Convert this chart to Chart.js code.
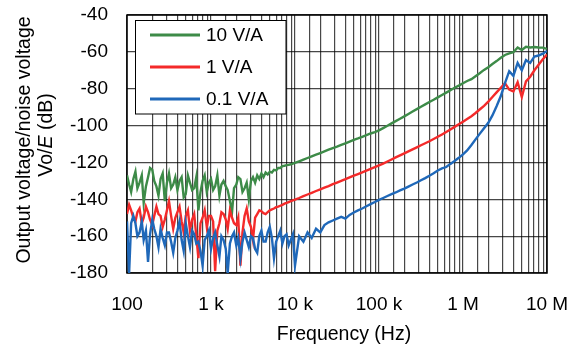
<!DOCTYPE html>
<html>
<head>
<meta charset="utf-8">
<script src="https://cdn.jsdelivr.net/npm/chart.js@4/dist/chart.umd.min.js"></script>
<style>
  html, body { margin: 0; padding: 0; background: #fff; }
  canvas { display: block; }
</style>
</head>
<body>
<canvas id="noise" width="576" height="349"></canvas>
<script>
// frequency grid: 40 points/decade below 10 kHz (noisy floor), 20 points/decade above
const fineSteps = [1, 1.06, 1.12, 1.19, 1.26, 1.33, 1.41, 1.5, 1.58, 1.68, 1.78, 1.88, 2, 2.11, 2.24, 2.37, 2.51, 2.66, 2.82, 2.99,
  3.16, 3.35, 3.55, 3.76, 3.98, 4.22, 4.47, 4.73, 5.01, 5.31, 5.62, 5.96, 6.31, 6.68, 7.08, 7.5, 7.94, 8.41, 8.91, 9.44];
const coarseSteps = [1, 1.12, 1.26, 1.41, 1.58, 1.78, 2, 2.24, 2.51, 2.82, 3.16, 3.55, 3.98, 4.47, 5.01, 5.62, 6.31, 7.08, 7.94, 8.91];
const freq = [1e2, 1e3].flatMap(d => fineSteps.map(s => s * d))
  .concat([1e4, 1e5, 1e6].flatMap(d => coarseSteps.map(s => s * d)), [1e7]);

const seriesNames = ['10 V/A', '1 V/A', '0.1 V/A'];
const seriesColors = ['#3d8b48', '#f42a2a', '#1f68b9'];

const gain10 = [
  // 100 Hz .. 9.4 kHz
  -127, -132, -136, -129, -125, -134, -131, -127, -142, -133,
  -128, -123, -124, -130, -133, -138, -129, -126, -141, -131,
  -126, -134, -132, -128, -135, -130, -128, -139, -137, -127,
  -131, -135, -134, -128, -146, -136, -130, -127, -136, -131,
  -129, -135, -133, -127, -138, -132, -130, -133, -135, -141,
  -147, -134, -132, -128, -129, -136, -134, -131, -140, -130,
  -128, -131, -127, -129, -126, -128, -125.5, -126.5, -125, -125.5,
  -124, -124.3, -123, -123, -122, -121.8, -121.5, -121.3, -121, -120.6,
  // 10 kHz .. 10 MHz
  -120.3, -119.4, -118.5, -117.6, -116.7, -115.8, -114.9, -114.0, -113.1, -112.2,
  -111.4, -110.5, -109.6, -108.7, -107.8, -107.0, -106.1, -105.2, -104.3, -103.5,
  -102.6, -101.4, -100.1, -98.8, -97.6, -96.3, -95.0, -93.7, -92.4, -91.1,
  -89.8, -88.5, -87.2, -86.0, -84.7, -83.4, -82.1, -80.8, -79.5, -78.3,
  -77.0, -75.8, -74.8, -73.2, -71.6, -69.8, -68.3, -66.6, -65.0, -63.2,
  -61.7, -60.8, -60.2, -57.6, -59.0, -57.2, -57.6, -57.4, -57.6, -57.7,
  -58.4
];

const gain1 = [
  -148, -143, -146, -150, -152, -147, -145, -153, -150, -144,
  -147, -151, -154, -149, -144, -148, -149, -155, -151, -146,
  -141, -149, -156, -150, -147, -144, -152, -158, -149, -146,
  -157, -151, -148, -160, -172, -153, -150, -146, -155, -149,
  -149, -152, -179, -157, -153, -147, -148, -151, -156, -146,
  -150, -153, -154, -150, -176, -158, -149, -145, -152, -155,
  -162, -150, -148, -146, -146.5, -147.5, -148, -147, -146, -145.5,
  -145, -144.3, -144, -143.5, -143, -142.4, -142, -141.5, -141, -140.6,
  -140.2, -139.3, -138.3, -137.4, -136.5, -135.5, -134.6, -133.7, -132.8, -131.8,
  -130.9, -130.0, -129.1, -128.1, -127.2, -126.3, -125.4, -124.4, -123.5, -122.6,
  -121.6, -120.6, -119.5, -118.4, -117.3, -116.2, -115.1, -114.0, -112.9, -111.8,
  -110.7, -109.6, -108.5, -107.3, -106.1, -104.8, -103.5, -102.1, -100.7, -99.3,
  -97.9, -96.4, -94.9, -93.2, -91.3, -89.3, -87.0, -84.5, -82.0, -79.5,
  -77.0, -80.5, -81.5, -76.5, -84.5, -76.0, -73.5, -70.0, -67.0, -64.0,
  -61.5
];

const gain01 = [
  -152, -180, -153, -149, -153, -160, -158, -152, -162, -157,
  -174, -159, -151, -156, -160, -166, -156, -161, -165, -158,
  -158, -163, -169, -161, -157, -152, -162, -168, -153, -160,
  -166, -157, -159, -164, -163, -168, -176, -162, -160, -157,
  -167, -161, -158, -165, -171, -160, -162, -167, -180, -164,
  -160, -158, -165, -161, -172, -163, -158, -162, -166, -160,
  -161, -167, -169, -160, -157, -163, -163, -158, -155, -161,
  -172, -163, -160, -157, -164, -160, -159, -165, -162, -159,
  -176, -160, -163, -158, -161, -156, -158, -154, -152.5, -151.5,
  -150.5, -149.5, -150.5, -148.5, -147.2, -146.0, -145.0, -143.8, -142.6, -141.5,
  -140.3, -139.3, -138.2, -137.2, -136.3, -135.2, -134.2, -133.1, -132.0, -130.9,
  -129.7, -128.5, -127.2, -125.9, -124.4, -123.2, -122.5, -120.8, -119.2, -117.5,
  -115.6, -113.5, -110.5, -107.5, -104.5, -101.5, -98.5, -94.5, -89.5, -84.0,
  -77.0, -70.5, -73.0, -66.0, -70.0, -64.5, -66.0, -62.5, -62.0, -61.0,
  -59.5
];

const decadeLabels = { 100: '100', 1000: '1 k', 10000: '10 k', 100000: '100 k', 1000000: '1 M', 10000000: '10 M' };

const FONT = "'Liberation Sans', Arial, sans-serif";

function toPoints(values) {
  return values.map((v, i) => ({ x: freq[i], y: v }));
}

// plot frame, legend box and axis titles
const decorations = {
  id: 'decorations',
  beforeDatasetsDraw(chart) {
    const { ctx, chartArea: a } = chart;
    ctx.save();
    ctx.strokeStyle = '#000';
    ctx.lineWidth = 1.5;
    ctx.strokeRect(a.left, a.top, a.right - a.left, a.bottom - a.top);
    ctx.restore();
  },
  afterDatasetsDraw(chart) {
    const ctx = chart.ctx;
    ctx.save();
    // legend
    ctx.fillStyle = '#fff';
    ctx.fillRect(135, 20, 151, 94);
    ctx.strokeStyle = '#000';
    ctx.lineWidth = 1;
    ctx.strokeRect(135.5, 20.5, 150.5, 93.5);
    ctx.font = '19px ' + FONT;
    ctx.textBaseline = 'middle';
    ctx.textAlign = 'left';
    chart.data.datasets.forEach((ds, i) => {
      const y = 35 + i * 32;
      ctx.strokeStyle = ds.borderColor;
      ctx.lineWidth = 3;
      ctx.beginPath();
      ctx.moveTo(150, y);
      ctx.lineTo(200, y);
      ctx.stroke();
      ctx.fillStyle = '#000';
      ctx.fillText(ds.label, 206, y + 1);
    });

    // x title
    ctx.fillStyle = '#000';
    ctx.textAlign = 'center';
    ctx.font = '19.5px ' + FONT;
    ctx.fillText('Frequency (Hz)', 344, 335);

    // y title, two rotated lines
    ctx.translate(25, 140);
    ctx.rotate(-Math.PI / 2);
    ctx.fillText('Output voltage/noise voltage', 0, 0);
    ctx.rotate(Math.PI / 2);
    ctx.translate(22, -5);
    ctx.rotate(-Math.PI / 2);
    const parts = [['Vo/', ''], ['E', 'italic '], [' (dB)', '']];
    let total = 0;
    parts.forEach(p => { ctx.font = p[1] + '19.5px ' + FONT; total += ctx.measureText(p[0]).width; });
    let x = -total / 2;
    ctx.textAlign = 'left';
    parts.forEach(p => {
      ctx.font = p[1] + '19.5px ' + FONT;
      ctx.fillText(p[0], x, 0);
      x += ctx.measureText(p[0]).width;
    });
    ctx.restore();
  }
};

const gridColor = 'rgba(0,0,0,0.72)';

new Chart(document.getElementById('noise'), {
  type: 'line',
  data: {
    datasets: [
      { label: seriesNames[0], data: toPoints(gain10), borderColor: seriesColors[0], order: 3 },
      { label: seriesNames[1], data: toPoints(gain1), borderColor: seriesColors[1], order: 2 },
      { label: seriesNames[2], data: toPoints(gain01), borderColor: seriesColors[2], order: 1 }
    ]
  },
  options: {
    responsive: false,
    animation: false,
    devicePixelRatio: 1,
    layout: { padding: { left: 0, right: 29, top: 15, bottom: 0 } },
    elements: {
      line: { borderWidth: 2.4, tension: 0, fill: false },
      point: { radius: 0 }
    },
    plugins: {
      legend: { display: false },
      tooltip: { enabled: false }
    },
    scales: {
      x: {
        type: 'logarithmic',
        min: 100,
        max: 1e7,
        grid: { color: gridColor, lineWidth: 1.2, drawTicks: false },
        border: { display: false },
        ticks: {
          autoSkip: false,
          maxRotation: 0,
          padding: 20,
          color: '#000',
          font: { family: FONT, size: 19 },
          callback: v => decadeLabels[Math.round(v)] || ''
        },
        // fixed band height; labels may overhang the canvas edge padding
        afterFit: axis => { axis.height = 76; axis.paddingLeft = 0; axis.paddingRight = 0; }
      },
      y: {
        min: -180,
        max: -40,
        grid: { color: gridColor, lineWidth: 1.2, drawTicks: false },
        border: { display: false },
        ticks: {
          stepSize: 20,
          padding: 19,
          color: '#000',
          font: { family: FONT, size: 19 },
          callback: v => String(v)
        },
        afterFit: axis => { axis.width = 127; axis.paddingTop = 0; axis.paddingBottom = 0; }
      }
    }
  },
  plugins: [decorations]
});
</script>
</body>
</html>
